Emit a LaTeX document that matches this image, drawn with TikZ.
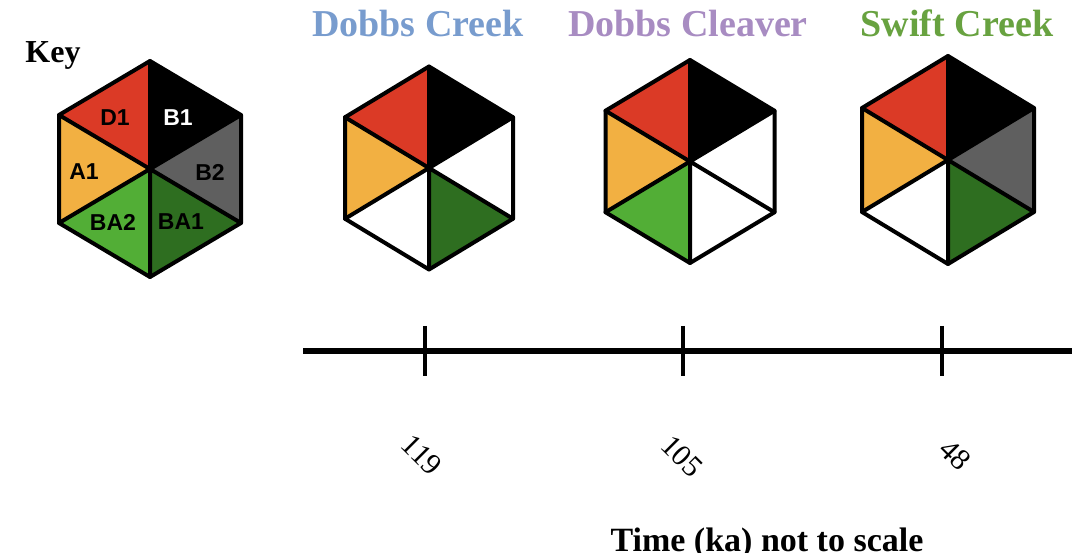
\documentclass[tikz,border=0pt]{standalone}
\usepackage{fontspec}
\setmainfont{Liberation Serif}
\newfontfamily\keysans{Liberation Sans}

\definecolor{secD}{HTML}{DB3A26}
\definecolor{secA}{HTML}{F2B042}
\definecolor{secBAtwo}{HTML}{52AE36}
\definecolor{secBAone}{HTML}{2E6E20}
\definecolor{secBtwo}{HTML}{5F5F5F}
\definecolor{secBone}{HTML}{000000}
\definecolor{ttlblue}{HTML}{789CCE}
\definecolor{ttlpurple}{HTML}{A88CC2}
\definecolor{ttlgreen}{HTML}{68A240}

\tikzset{
  hexline/.style={line width=4pt, line join=round, line cap=round},
  sitetitle/.style={font=\fontsize{38}{40}\selectfont\bfseries, anchor=base, inner sep=0pt},
  keylabel/.style={font=\keysans\fontsize{23}{25}\selectfont\bfseries, inner sep=0pt},
  agelabel/.style={font=\fontsize{30}{32}\selectfont, rotate=-45, inner sep=0pt},
  axisline/.style={line width=5.5pt},
  tickline/.style={line width=4.5pt},
}

% Six-sector hexagon: #1 centre, #2 half-height, #3 half-width,
% #4 sector colours clockwise from the top-right sector (B1, B2, BA1, BA2, A1, D1)
\newcommand\hexwheel[4]{%
  \begin{scope}[shift={#1}, xscale=#3, yscale=#2]
    \foreach \c [count=\k from 0] in {#4}
      \fill[\c] (0,0) -- ({cos(90-60*\k)/cos(30)}, {-sin(90-60*\k)})
                      -- ({cos(30-60*\k)/cos(30)}, {-sin(30-60*\k)}) -- cycle;
    \draw[hexline] (0,-1) -- (1,-0.5) -- (1,0.5) -- (0,1) -- (-1,0.5) -- (-1,-0.5) -- cycle;
    \draw[hexline] (0,-1) -- (0,1) (1,-0.5) -- (-1,0.5) (1,0.5) -- (-1,-0.5);
  \end{scope}}

\begin{document}
\begin{tikzpicture}[x=1pt, y={(0pt,-1pt)}]
  \useasboundingbox (0,0) rectangle (1072,553);

  % key
  \node[font=\fontsize{32}{34}\selectfont\bfseries, anchor=base, inner sep=0pt] (keytitle) at (53,63) {Key};
  \hexwheel{(150,169)}{108}{91}{secBone,secBtwo,secBAone,secBAtwo,secA,secD}
  \node[keylabel] (kD1)  at (115,118) {D1};
  \node[keylabel, text=white] (kB1) at (178,118) {B1};
  \node[keylabel] (kA1)  at (84,172)  {A1};
  \node[keylabel] (kB2)  at (210,172) {B2};
  \node[keylabel] (kBA2) at (113,222) {BA2};
  \node[keylabel] (kBA1) at (181,222) {BA1};

  % sites
  \node[sitetitle, text=ttlblue]   (t1) at (418,37) {Dobbs Creek};
  \node[sitetitle, text=ttlpurple] (t2) at (688,37) {Dobbs Cleaver};
  \node[sitetitle, text=ttlgreen]  (t3) at (957,37) {Swift Creek};

  \hexwheel{(429,168)}{101.5}{84}{secBone,white,secBAone,white,secA,secD}
  \hexwheel{(690,161.5)}{101.5}{84.5}{secBone,white,white,secBAtwo,secA,secD}
  \hexwheel{(948,160)}{104}{86}{secBone,secBtwo,secBAone,white,secA,secD}

  % time axis
  \coordinate (axL) at (303,351);
  \coordinate (axR) at (1072,351);
  \draw[axisline] (axL) -- (axR);
  \foreach \x/\nm in {425/tkA, 683/tkB, 942/tkC} {
    \coordinate (\nm top) at (\x,326);
    \coordinate (\nm bot) at (\x,376);
    \draw[tickline] (\nm top) -- (\nm bot);
  }

  \node[agelabel] (a119) at (422,455) {119};
  \node[agelabel] (a105) at (682,456) {105};
  \node[agelabel] (a48)  at (955,455) {48};

  \node[font=\fontsize{34}{36}\selectfont\bfseries, anchor=base, inner sep=0pt] (timecap) at (767,551) {Time (ka) not to scale};
\end{tikzpicture}
\end{document}
